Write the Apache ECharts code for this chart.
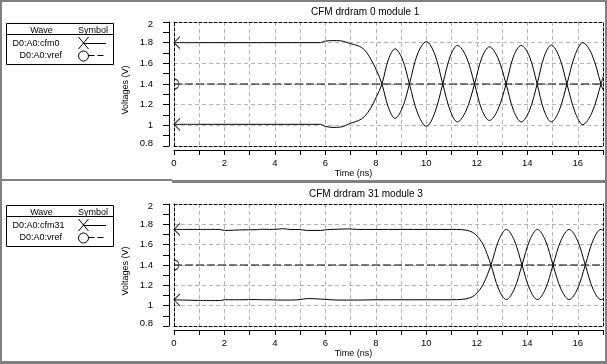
<!DOCTYPE html>
<html><head><meta charset="utf-8">
<script src="https://cdn.jsdelivr.net/npm/echarts@6/dist/echarts.min.js"></script>
<style>html,body{margin:0;padding:0;background:#fff}#c{width:607px;height:364px}</style>
</head><body><div id="c"></div>
<script>
// ---- data ----
const panelTitles = ['CFM drdram 0 module 1', 'CFM drdram 31 module 3'];
const legendNames = [['D0:A0:cfm0', 'D0:A0:vref'], ['D0:A0:cfm31', 'D0:A0:vref']];
const xAxisName = 'Time (ns)';
const yAxisName = 'Voltages (V)';

const topTime = [0,1,2,3,4,5, 5.8,6.0,6.3,6.6, 7.0,7.3,7.55,7.8,8.03, 8.24,8.5,8.76,9.05,9.33, 9.65,10.0,10.33,10.65,10.95, 11.23,11.57,11.91,12.2,12.5, 12.83,13.16,13.46,13.76,14.08, 14.39,14.67,14.95,15.26,15.57, 15.9,16.2,16.56,16.92,17.0];
const topCfmA = [1.80,1.80,1.80,1.80,1.80,1.80, 1.80,1.815,1.82,1.818, 1.79,1.77,1.73,1.64,1.53, 1.40,1.17,1.067,1.17,1.40, 1.69,1.81,1.69,1.40,1.14, 1.033,1.14,1.40,1.655,1.76, 1.655,1.40,1.14,1.033,1.14, 1.40,1.666,1.776,1.666,1.40, 1.122,1.007,1.122,1.40,1.47];
const topCfmB = [1.01,1.01,1.01,1.01,1.01,1.01, 1.01,0.99,0.98,0.983, 1.02,1.045,1.085,1.17,1.28, 1.40,1.64,1.74,1.64,1.40, 1.12,0.99,1.12,1.40,1.67, 1.773,1.67,1.40,1.15,1.047, 1.15,1.40,1.67,1.773,1.67, 1.40,1.14,1.033,1.14,1.40, 1.685,1.80,1.685,1.40,1.34];

const botTime = [0,1.5,1.8,2.0,2.3, 2.6,3.3,3.5,3.8,4.1, 4.3,4.6,5.0,5.3,5.8, 6.1,6.5,6.9,7.3,8.0, 9,10,11,11.4,11.7, 11.95,12.25,12.56,12.87,13.17, 13.48,13.79,14.1,14.4,14.71, 15.02,15.34,15.66,15.98,16.3, 16.61,16.92,17.0];
const botCfmA = [1.75,1.75,1.75,1.74,1.742, 1.745,1.748,1.752,1.75,1.752, 1.757,1.75,1.748,1.74,1.74, 1.748,1.752,1.755,1.75,1.75, 1.75,1.75,1.75,1.748,1.735, 1.70,1.60,1.40,1.16,1.06, 1.16,1.40,1.645,1.75,1.645, 1.40,1.16,1.06,1.16,1.40, 1.645,1.75,1.745];
const botCfmB = [1.058,1.05,1.05,1.058,1.058, 1.058,1.06,1.058,1.058,1.055, 1.055,1.055,1.06,1.07,1.065, 1.06,1.055,1.055,1.055,1.058, 1.058,1.058,1.058,1.062,1.075, 1.11,1.21,1.40,1.645,1.75, 1.645,1.40,1.16,1.06,1.16, 1.40,1.645,1.75,1.645,1.40, 1.16,1.06,1.065];

const vrefTime = [0, 17];
const vrefValue = [1.4, 1.4];

const xMin = 0, xMax = 17, xStep = 1;
const yMin = 0.8, yMax = 2.0, yStep = 0.2;

// ---- chart ----
const FONT = '"Liberation Sans", Arial, sans-serif';
const panels = [
  {time: topTime, a: topCfmA, b: topCfmB, grid: {left:174, top:22, width:429, height:124}, titleTop: 7, titleLeft: 311, legendY: 23},
  {time: botTime, a: botCfmA, b: botCfmB, grid: {left:174, top:204, width:429, height:122}, titleTop: 189, titleLeft: 309, legendY: 205}
];

const pairs = (t, v) => t.map((x, i) => [x, v[i]]);

const grids = [], xAxes = [], yAxes = [], series = [], titles = [];
const frameLine = {show: true, lineStyle: {color: '#000', width: 1, type: [3, 2]}};
const gridLineStyle = {color: '#b4b4b4', width: 1, type: [4, 3]};

panels.forEach((p, g) => {
  grids.push(Object.assign({outerBoundsMode: 'none', containLabel: false, show: false}, p.grid));
  titles.push({text: panelTitles[g], left: p.titleLeft, top: p.titleTop, padding: 0,
    textStyle: {fontSize: 10, fontWeight: 'normal', color: '#000', fontFamily: FONT}});
  const xb = xAxes.length;
  xAxes.push({
    gridIndex: g, type: 'value', min: xMin, max: xMax, interval: xStep, position: 'bottom', offset: 4,
    axisLine: {show: true, onZero: false, lineStyle: {color: '#000', width: 1}},
    axisTick: {show: true, length: 5, lineStyle: {color: '#000'}},
    axisLabel: {margin: 8, fontSize: 9.5, color: '#000', fontFamily: FONT,
      formatter: v => (v % 2 === 0 && v < xMax) ? String(v) : ''},
    splitLine: {show: true, showMinLine: false, showMaxLine: false, lineStyle: gridLineStyle},
    name: xAxisName, nameLocation: 'middle', nameGap: 19, nameMoveOverlap: false,
    nameTextStyle: {fontSize: 9, color: '#000', fontFamily: FONT, padding: [0, 70, 0, 0]}
  });
  xAxes.push({gridIndex: g, type: 'value', min: xMin, max: xMax, position: 'bottom', offset: 0,
    axisLine: Object.assign({onZero: false}, frameLine), axisTick: {show: false}, axisLabel: {show: false}, splitLine: {show: false}});
  xAxes.push({gridIndex: g, type: 'value', min: xMin, max: xMax, position: 'top', offset: 0,
    axisLine: Object.assign({onZero: false}, frameLine), axisTick: {show: false}, axisLabel: {show: false}, splitLine: {show: false}});
  const yb = yAxes.length;
  yAxes.push({
    gridIndex: g, type: 'value', min: yMin, max: yMax, interval: yStep, position: 'left', offset: 5,
    axisLine: {show: true, onZero: false, lineStyle: {color: '#000', width: 1}},
    axisTick: {show: true, length: 6, lineStyle: {color: '#000'}},
    minorTick: {show: true, splitNumber: 2, length: 6, lineStyle: {color: '#000'}},
    axisLabel: {margin: 16, fontSize: 9.5, color: '#000', fontFamily: FONT,
      formatter: v => {
        const s = String(Math.round(v * 10) / 10);
        if (Math.abs(v - yMax) < 1e-6) return '{t|' + s + '}';
        if (Math.abs(v - yMin) < 1e-6) return '{b|' + s + '}';
        return s;
      },
      rich: {t: {fontSize: 9.5, fontFamily: FONT, color: '#000', padding: [4, 0, 0, 0]},
             b: {fontSize: 9.5, fontFamily: FONT, color: '#000', padding: [0, 0, 6, 0]}}},
    splitLine: {show: true, showMinLine: false, showMaxLine: false, lineStyle: gridLineStyle},
    name: yAxisName, nameLocation: 'middle', nameGap: 39, nameMoveOverlap: false,
    nameTextStyle: {fontSize: 9, color: '#000', fontFamily: FONT, padding: [0, 12, 0, 0]}
  });
  yAxes.push({gridIndex: g, type: 'value', min: yMin, max: yMax, position: 'left', offset: 0,
    axisLine: Object.assign({onZero: false}, frameLine), axisTick: {show: false}, axisLabel: {show: false}, splitLine: {show: false}});
  yAxes.push({gridIndex: g, type: 'value', min: yMin, max: yMax, position: 'right', offset: 0,
    axisLine: Object.assign({onZero: false}, frameLine), axisTick: {show: false}, axisLabel: {show: false}, splitLine: {show: false}});

  const lineCommon = {type: 'line', xAxisIndex: xb, yAxisIndex: yb, symbol: 'none', smooth: 0.35,
    lineStyle: {color: '#000', width: 1}, silent: true, animation: false};
  series.push(Object.assign({name: legendNames[g][0], data: pairs(p.time, p.a)}, lineCommon));
  series.push(Object.assign({name: legendNames[g][0] + ' ', data: pairs(p.time, p.b)}, lineCommon));
  series.push(Object.assign({}, lineCommon, {name: legendNames[g][1], smooth: false, data: pairs(vrefTime, vrefValue),
    lineStyle: {color: '#000', width: 1, type: [8, 3]}}));
  series.push({type: 'scatter', xAxisIndex: xb, yAxisIndex: yb, silent: true, animation: false,
    symbol: 'path://M6 0 L0 6 L6 12', symbolSize: [6, 12], symbolOffset: [3, 0],
    itemStyle: {color: 'rgba(0,0,0,0)', borderColor: '#000', borderWidth: 1},
    data: [[p.time[0], p.a[0]], [p.time[0], p.b[0]]]});
  series.push({type: 'scatter', xAxisIndex: xb, yAxisIndex: yb, silent: true, animation: false,
    symbol: 'path://M0 0 A5 5 0 0 1 0 10', symbolSize: [5, 10], symbolOffset: [2.5, 0],
    itemStyle: {color: 'rgba(0,0,0,0)', borderColor: '#000', borderWidth: 1},
    data: [[vrefTime[0], vrefValue[0]]]});
});

function legendBox(y0, names) {
  const txt = (s, x, y, align, vAlign) => ({type: 'text', x: x, y: y, silent: true,
    style: {text: s, fill: '#000', font: '9px ' + FONT, textAlign: align, textVerticalAlign: vAlign}});
  return [
    {type: 'rect', shape: {x: 6.5, y: y0 + 0.5, width: 107, height: 41}, style: {fill: '#fff', stroke: '#000', lineWidth: 1}},
    txt('Wave', 41.5, y0 + 12, 'center', 'bottom'),
    txt('Symbol', 93, y0 + 12, 'center', 'bottom'),
    {type: 'line', shape: {x1: 6.5, y1: y0 + 11.5, x2: 113.5, y2: y0 + 11.5}, style: {stroke: '#000', lineWidth: 1}},
    txt(names[0], 12.5, y0 + 20.5, 'left', 'middle'),
    txt(names[1], 19.5, y0 + 32.5, 'left', 'middle'),
    {type: 'line', shape: {x1: 78.5, y1: y0 + 14, x2: 88.5, y2: y0 + 26}, style: {stroke: '#000', lineWidth: 1}},
    {type: 'line', shape: {x1: 78.5, y1: y0 + 26, x2: 88.5, y2: y0 + 14}, style: {stroke: '#000', lineWidth: 1}},
    {type: 'line', shape: {x1: 83.5, y1: y0 + 20.5, x2: 106, y2: y0 + 20.5}, style: {stroke: '#000', lineWidth: 1}},
    {type: 'circle', shape: {cx: 83.5, cy: y0 + 33, r: 5}, style: {fill: 'none', stroke: '#000', lineWidth: 1}},
    {type: 'line', shape: {x1: 88.5, y1: y0 + 32.5, x2: 106, y2: y0 + 32.5}, style: {stroke: '#000', lineWidth: 1, lineDash: [6, 3]}}
  ];
}

const gray = '#808080';
const borders = [
  {type: 'rect', shape: {x: 0, y: 0, width: 607, height: 2}, style: {fill: gray}},
  {type: 'rect', shape: {x: 0, y: 0, width: 2, height: 364}, style: {fill: gray}},
  {type: 'rect', shape: {x: 605, y: 0, width: 2, height: 364}, style: {fill: gray}},
  {type: 'rect', shape: {x: 0, y: 361, width: 607, height: 3}, style: {fill: gray}},
  {type: 'rect', shape: {x: 0, y: 179, width: 172, height: 2}, style: {fill: gray}},
  {type: 'rect', shape: {x: 172, y: 180, width: 433, height: 3}, style: {fill: gray}}
];

const chart = echarts.init(document.getElementById('c'), null, {renderer: 'canvas'});
chart.setOption({
  backgroundColor: '#fff',
  animation: false,
  title: titles,
  grid: grids,
  xAxis: xAxes,
  yAxis: yAxes,
  series: series,
  graphic: borders.map(b => Object.assign({silent: true}, b))
    .concat(legendBox(panels[0].legendY, legendNames[0]))
    .concat(legendBox(panels[1].legendY, legendNames[1]))
});
</script>
</body></html>
